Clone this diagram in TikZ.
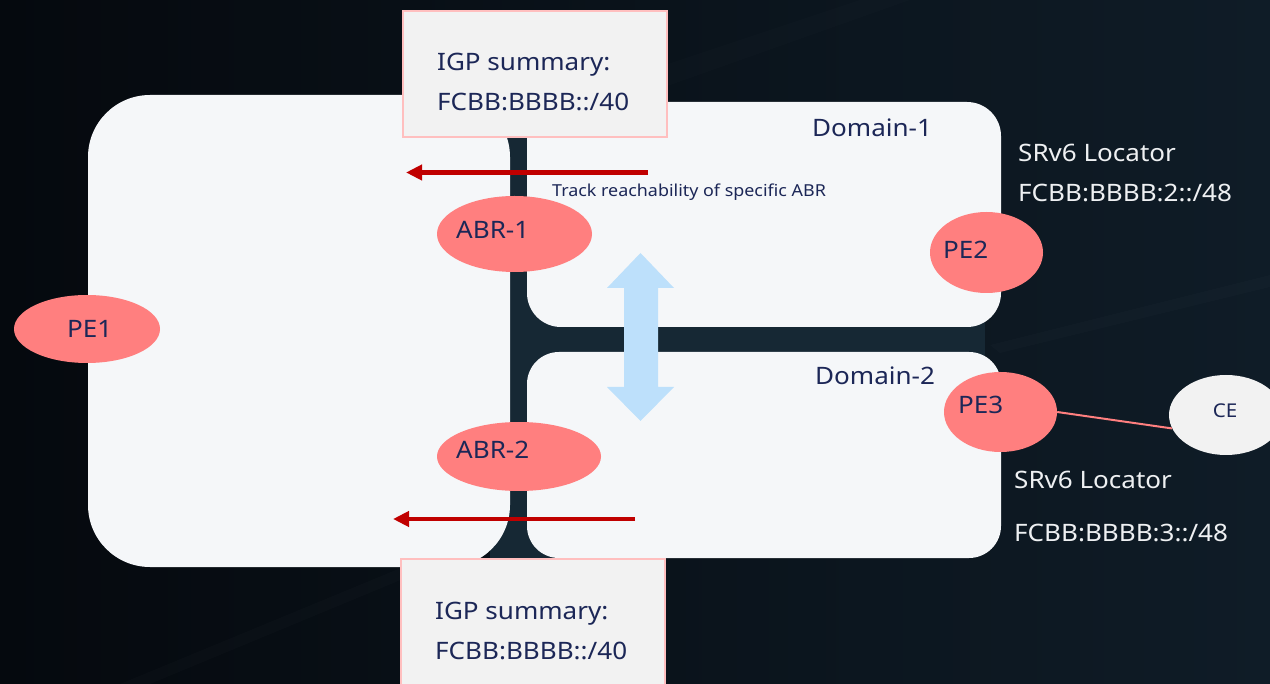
\documentclass[tikz,border=0pt]{standalone}
\usepackage{fontspec}
\setmainfont{Noto Sans}[FakeStretch=1.085]
\usetikzlibrary{arrows.meta,shapes.geometric}
\definecolor{bgL}{HTML}{05090E}
\definecolor{bgR}{HTML}{0F1C27}
\definecolor{channel}{HTML}{162834}
\definecolor{panel}{HTML}{F5F7F9}
\definecolor{boxfill}{HTML}{F2F2F2}
\definecolor{boxline}{HTML}{FFBFBF}
\definecolor{salmon}{HTML}{FF7F7F}
\definecolor{navy}{HTML}{1C2757}
\definecolor{darkred}{HTML}{C00000}
\definecolor{lightblue}{HTML}{BDE0FB}
\definecolor{lightgray}{HTML}{F2F2F2}
\definecolor{paletext}{HTML}{EEF0F2}
\tikzset{
  panelshape/.style={fill=panel},
  igpbox/.style={draw=boxline, line width=1.2pt, fill=boxfill, inner sep=0pt},
  lbl/.style={text=navy, font=\fontsize{24}{28}\selectfont, inner sep=0pt},
  smalllbl/.style={text=navy, font=\fontsize{16.5}{20}\selectfont, inner sep=0pt},
  whitelbl/.style={text=paletext, font=\fontsize{24}{28}\selectfont, inner sep=0pt},
  router/.style={ellipse, fill=salmon, inner sep=0pt},
  client/.style={ellipse, fill=lightgray, inner sep=0pt},
  redarrow/.style={draw=darkred, line width=4.5pt, -{Triangle[length=16pt,width=15pt]}},
}
\begin{document}
\begin{tikzpicture}[x=1pt,y=-1pt]
\useasboundingbox (0,0) rectangle (1270,684);
% background
\fill[left color=bgL, right color=bgR] (0,0) rectangle (1270,684);
\fill[white, opacity=0.015] (120,684) -- (420,560) -- (420,572) -- (150,684) -- cycle;
\fill[white, opacity=0.012] (560,100) -- (860,0) -- (910,0) -- (600,110) -- cycle;
\fill[white, opacity=0.015] (990,345) -- (1270,275) -- (1270,287) -- (1000,353) -- cycle;
% separator channel
\fill[channel] (490,125) rectangle (560,566);
\fill[channel] (520,318) rectangle (985,362);
% panels
\fill[panelshape, rounded corners=62pt] (88,95) rectangle (510,567);
\fill[panelshape, rounded corners=34pt] (527,102) rectangle (1001,327);
\fill[panelshape, rounded corners=32pt] (527,352) rectangle (1001,558);
% IGP summary boxes
\node[igpbox, minimum width=264pt, minimum height=126pt] (sumtop) at (535,74) {};
\node[igpbox, minimum width=264pt, minimum height=140pt] (sumbot) at (533,629) {};
\node[lbl, anchor=base west] (sumtop1) at (437,71) {IGP summary:};
\node[lbl, anchor=base west] (sumtop2) at (437,111) {FCBB:BBBB::/40};
\node[lbl, anchor=base west] (sumbot1) at (435,619) {IGP summary:};
\node[lbl, anchor=base west] (sumbot2) at (435,659) {FCBB:BBBB::/40};
% red arrows
\coordinate (a1s) at (648,172.5);
\coordinate (a1e) at (406,172.5);
\coordinate (a2s) at (635,519);
\coordinate (a2e) at (393,519);
\draw[redarrow] (a1s) -- (a1e);
\draw[redarrow] (a2s) -- (a2e);
\node[smalllbl, anchor=base west] (track) at (552,197) {Track reachability of specific ABR};
% domain labels
\node[lbl, anchor=base west] (dom1) at (812,137) {Domain-1};
\node[lbl, anchor=base west] (dom2) at (815,385) {Domain-2};
% blue double arrow
\fill[lightblue] (640.5,253) -- (674,288) -- (658,288) -- (658,387) -- (674,387)
  -- (640.5,421) -- (607,387) -- (624,387) -- (624,288) -- (607,288) -- cycle;
% routers
\node[router, minimum width=155pt, minimum height=76pt] (abr1) at (514.5,234) {};
\node[router, minimum width=164pt, minimum height=69pt] (abr2) at (519,456.5) {};
\node[router, minimum width=146pt, minimum height=68pt] (pe1) at (87,329) {};
\node[router, minimum width=113pt, minimum height=81pt] (pe2) at (986.5,252.5) {};
\node[router, minimum width=113pt, minimum height=80pt] (pe3) at (1000.5,412) {};
\node[client, minimum width=114pt, minimum height=80pt] (ce) at (1226,415) {};
\node[lbl, anchor=base west] (abr1t) at (456,239) {ABR-1};
\node[lbl, anchor=base west] (abr2t) at (456,459) {ABR-2};
\node[lbl, anchor=base west] (pe1t) at (67,338) {PE1};
\node[lbl, anchor=base west] (pe2t) at (943,259) {PE2};
\node[lbl, anchor=base west] (pe3t) at (958,414) {PE3};
\node[text=navy, font=\fontsize{19}{22}\selectfont, inner sep=0pt, anchor=base] (cet) at (1225,418) {CE};
\draw[salmon, line width=2pt] (pe3.east) -- (ce.194);
% locator labels
\node[whitelbl, anchor=base west] (loc1a) at (1018,162) {SRv6 Locator};
\node[whitelbl, anchor=base west] (loc1b) at (1018,202) {FCBB:BBBB:2::/48};
\node[whitelbl, anchor=base west] (loc2a) at (1014,489) {SRv6 Locator};
\node[whitelbl, anchor=base west] (loc2b) at (1014,542) {FCBB:BBBB:3::/48};
\end{tikzpicture}
\end{document}
